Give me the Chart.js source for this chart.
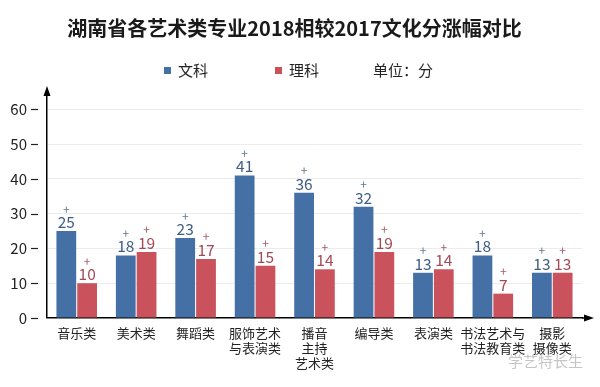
<!DOCTYPE html>
<html>
<head>
<meta charset="utf-8">
<script src="https://cdn.jsdelivr.net/npm/chart.js@4"></script>
<style>
    html, body { margin: 0; padding: 0; background: #fff; }
    #wrap { width: 600px; height: 387px; }
</style>
</head>
<body>
<div id="wrap"><canvas id="chart" width="600" height="387"></canvas></div>
<script>
'use strict';

// Categories (multi-line labels as in the picture)
const CATEGORIES = [
    ["音乐类"], ["美术类"], ["舞蹈类"], ["服饰艺术", "与表演类"], ["播音", "主持", "艺术类"],
    ["编导类"], ["表演类"], ["书法艺术与", "书法教育类"], ["摄影", "摄像类"]
];

// Score increase, liberal arts (文科) and science (理科)
const WENKE = [25, 18, 23, 41, 36, 32, 13, 18, 13];
const LIKE = [10, 19, 17, 15, 14, 19, 14, 7, 13];

const Y_TICKS = [0, 10, 20, 30, 40, 50, 60];

const FONT = '"Noto Sans CJK SC", "Noto Sans", sans-serif';
const BLUE = "#4570a6";
const RED = "#c9525c";
const LABEL_COLORS = ["#3d5d85", "#a34a57"];
const PLUS_COLORS = ["#667a8e", "#a0606c"];

// Custom legend, value labels, axis arrows and tick dashes
const decorations = {
    id: 'decorations',
    afterDraw(chart) {
        const ctx = chart.ctx;
        const area = chart.chartArea;
        const yScale = chart.scales.y;
        ctx.save();

        // legend
        ctx.font = '15px ' + FONT;
        ctx.textBaseline = 'middle';
        ctx.textAlign = 'left';
        ctx.fillStyle = BLUE;
        ctx.fillRect(164, 67, 7, 7);
        ctx.fillStyle = RED;
        ctx.fillRect(275, 67, 7, 7);
        ctx.fillStyle = '#222';
        ctx.fillText('文科', 178, 70);
        ctx.fillText('理科', 289, 70);
        ctx.fillText('单位：分', 373, 70);

        // y tick dashes (separated from the axis)
        ctx.strokeStyle = '#222';
        ctx.lineWidth = 1.2;
        for (const v of Y_TICKS) {
            const y = Math.round(yScale.getPixelForValue(v)) + 0.5;
            ctx.beginPath();
            ctx.moveTo(31, y);
            ctx.lineTo(38, y);
            ctx.stroke();
        }

        // axis arrows
        ctx.fillStyle = '#000';
        ctx.strokeStyle = '#000';
        ctx.lineWidth = 1.5;
        ctx.beginPath();
        ctx.moveTo(area.right, area.bottom);
        ctx.lineTo(588, area.bottom);
        ctx.stroke();
        ctx.beginPath();
        ctx.moveTo(594, area.bottom);
        ctx.lineTo(584, area.bottom - 3.5);
        ctx.lineTo(584, area.bottom + 3.5);
        ctx.closePath();
        ctx.fill();
        ctx.beginPath();
        ctx.moveTo(area.left, area.top - 6);
        ctx.lineTo(area.left - 3.5, area.top + 4);
        ctx.lineTo(area.left + 3.5, area.top + 4);
        ctx.closePath();
        ctx.fill();

        // value labels with "+"
        ctx.textAlign = 'center';
        chart.data.datasets.forEach(function (ds, i) {
            const meta = chart.getDatasetMeta(i);
            meta.data.forEach(function (bar, j) {
                ctx.font = '15.5px ' + FONT;
                ctx.textBaseline = 'alphabetic';
                ctx.fillStyle = LABEL_COLORS[i];
                ctx.fillText(String(ds.data[j]), bar.x, bar.y - 3);
                ctx.font = '12px ' + FONT;
                ctx.textBaseline = 'middle';
                ctx.fillStyle = PLUS_COLORS[i];
                ctx.fillText('+', bar.x, bar.y - 22);
            });
        });

        // watermark
        ctx.font = '15px ' + FONT;
        ctx.textAlign = 'left';
        ctx.fillStyle = 'rgba(150,150,150,0.55)';
        ctx.fillText('学艺特长生', 508, 361);
        ctx.restore();
    }
};

const data = {
    labels: CATEGORIES,
    datasets: [
        { label: '文科', data: WENKE, backgroundColor: BLUE },
        { label: '理科', data: LIKE, backgroundColor: RED }
    ]
};

const config = {
    type: 'bar',
    data: data,
    plugins: [decorations],
    options: {
        responsive: false,
        animation: false,
        layout: {
            padding: { left: 7, right: 18, top: 0, bottom: 9 }
        },
        datasets: {
            bar: { categoryPercentage: 0.7, barPercentage: 0.95 }
        },
        plugins: {
            legend: { display: false },
            tooltip: { enabled: false },
            title: {
                display: true,
                text: '湖南省各艺术类专业2018相较2017文化分涨幅对比',
                color: '#1a1a1a',
                font: { family: FONT, size: 20, weight: 'bold', lineHeight: 1.2 },
                padding: { top: 16, bottom: 52 }
            }
        },
        scales: {
            x: {
                grid: { display: false, drawTicks: false },
                border: { color: '#000', width: 1.5 },
                ticks: {
                    color: '#222',
                    padding: 7,
                    maxRotation: 0,
                    autoSkip: false,
                    font: { family: FONT, size: 13, lineHeight: 1.18 }
                }
            },
            y: {
                min: 0,
                max: 65,
                afterBuildTicks: function (scale) {
                    scale.ticks = Y_TICKS.map(function (v) { return { value: v }; });
                },
                afterFit: function (scale) {
                    scale.width = 40;
                },
                grid: { color: '#ececec', drawTicks: false },
                border: { color: '#000', width: 1.5 },
                ticks: {
                    color: '#222',
                    padding: 20,
                    font: { family: FONT, size: 15 }
                }
            }
        }
    }
};

new Chart(document.getElementById('chart'), config);
</script>
</body>
</html>
